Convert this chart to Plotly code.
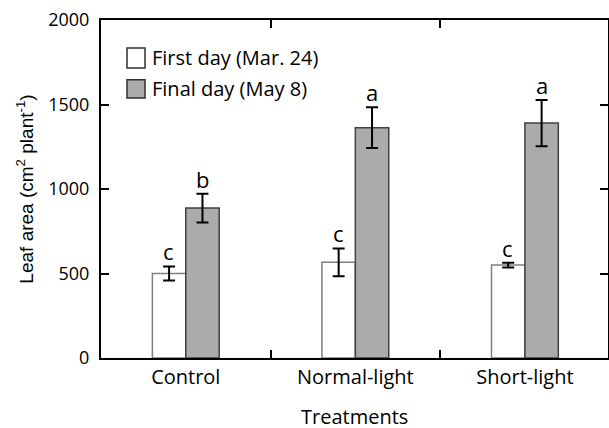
import plotly.graph_objects as go

categories = ["Control", "Normal-light", "Short-light"]
first_day = [500, 566, 550]
first_err = [42, 82, 14]
final_day = [887, 1363, 1390]
final_err = [85, 121, 137]
first_letters = ["c", "c", "c"]
final_letters = ["b", "a", "a"]
y_ticks = [0, 500, 1000, 1500, 2000]
series_names = ["First day (Mar. 24)", "Final day (May 8)"]
series_fill = ["white", "#ababab"]
x_title = "Treatments"

FONT = "Open Sans"
fig = go.Figure()
fig.add_trace(go.Bar(
    x=categories, y=first_day, name=series_names[0], showlegend=False,
    marker=dict(color=series_fill[0], line=dict(color="#7f7f7f", width=1.5)),
    error_y=dict(type="data", array=first_err, color="black", thickness=2, width=6),
))
fig.add_trace(go.Bar(
    x=categories, y=final_day, name=series_names[1], showlegend=False,
    marker=dict(color=series_fill[1], line=dict(color="#404040", width=1.5)),
    error_y=dict(type="data", array=final_err, color="black", thickness=2, width=6),
))

ann = []
for i, c in enumerate(categories):
    ann.append(dict(x=c, y=first_day[i] + first_err[i], text=first_letters[i], xref="x", yref="y",
                    xshift=-17, yshift=-2, yanchor="bottom", showarrow=False,
                    font=dict(family=FONT, size=22, color="black")))
    ann.append(dict(x=c, y=final_day[i] + final_err[i], text=final_letters[i], xref="x", yref="y",
                    xshift=17, yshift=-2, yanchor="bottom", showarrow=False,
                    font=dict(family=FONT, size=22, color="black")))

# manual legend (paper coordinates)
shapes = []
leg_rows = [(0.917, 0.858, 0.888), (0.823, 0.769, 0.796)]
for k, (ytop, ybot, ytxt) in enumerate(leg_rows):
    shapes.append(dict(type="rect", xref="paper", yref="paper", x0=0.0513, x1=0.0868,
                       y0=ybot, y1=ytop, fillcolor=series_fill[k],
                       line=dict(color="#303030", width=1.5)))
    ann.append(dict(x=0.097, y=ytxt, xref="paper", yref="paper", text=series_names[k],
                    xanchor="left", yanchor="middle", showarrow=False,
                    font=dict(family=FONT, size=20, color="black")))
# x-axis title
ann.append(dict(x=0.5, y=-0.173, xref="paper", yref="paper", text=x_title,
                xanchor="center", yanchor="middle", showarrow=False,
                font=dict(family=FONT, size=20, color="black")))
fig.update_layout(annotations=ann, shapes=shapes)

fig.update_layout(
    width=609, height=428,
    margin=dict(l=101, r=1, t=20, b=70),
    plot_bgcolor="white", paper_bgcolor="white",
    barmode="group", bargap=0.606, bargroupgap=0,
    font=dict(family=FONT, size=20, color="black"),
    xaxis=dict(range=[-0.5, 2.49], showline=True, linecolor="black", linewidth=2, mirror="ticks",
               ticks="inside", ticklen=8, tickwidth=2, tickcolor="black", tickson="boundaries",
               automargin=False, tickfont=dict(family=FONT, size=20)),
    yaxis=dict(range=[0, 2000], tickvals=y_ticks, showline=True, linecolor="black", linewidth=2,
               mirror="ticks", ticks="inside", ticklen=8, tickwidth=2, tickcolor="black",
               showgrid=False, zeroline=False, ticklabelstandoff=6, automargin=False,
               title=dict(text="Leaf area (cm<sup>2</sup> plant<sup>-1</sup>)",
                          font=dict(family="Liberation Sans", size=19), standoff=10),
               tickfont=dict(family=FONT, size=18)),
)
fig.write_html("out.html")
